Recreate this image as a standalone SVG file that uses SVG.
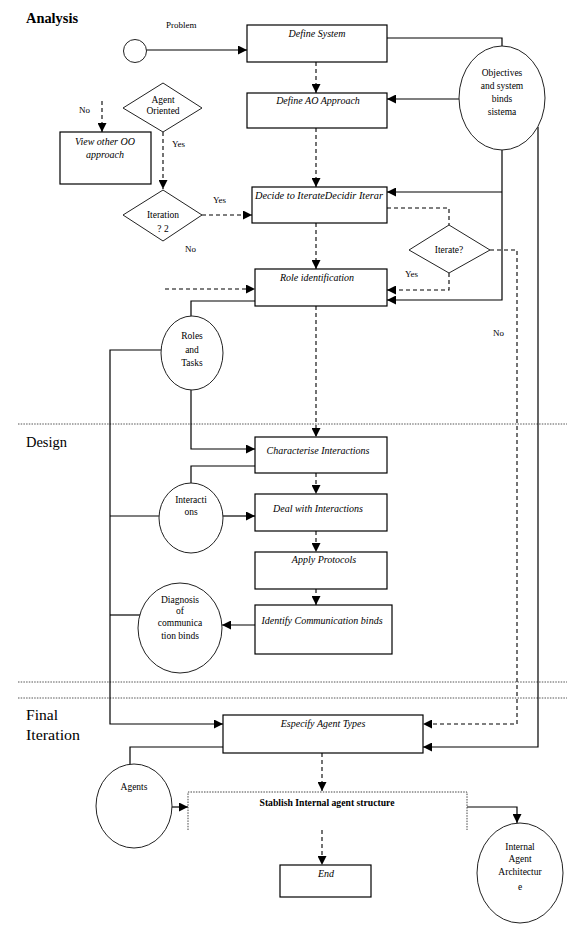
<svg xmlns="http://www.w3.org/2000/svg" width="567" height="926" viewBox="0 0 567 926">
<style>
  text{font-family:"Liberation Serif","Times New Roman","DejaVu Serif",serif}
  .box{fill:#fff;stroke:#000;stroke-width:1.2}
  .circ{fill:#fff;stroke:#222;stroke-width:1}
  .bt{font-style:italic;font-size:10px;fill:#000;text-anchor:middle}
  .ct{font-size:9.5px;fill:#000;text-anchor:middle}
  .lb{font-size:9px;fill:#000}
  .sec{font-size:15px;fill:#000}
  .solid{fill:none;stroke:#000;stroke-width:1.2}
  .dash{fill:none;stroke:#000;stroke-width:1.1;stroke-dasharray:4 3}
  .sep{fill:none;stroke:#555;stroke-width:1;stroke-dasharray:1.5 1.2}
  .dot{fill:none;stroke:#444;stroke-width:1;stroke-dasharray:1.5 1.2}
</style>
<defs>
  <marker id="ah" markerWidth="9" markerHeight="9" refX="9" refY="4.5" orient="auto" markerUnits="userSpaceOnUse">
    <path d="M0,0 L9,4.5 L0,9 z" fill="#000"/>
  </marker>
</defs>
<rect width="567" height="926" fill="#fff"/>

<g id="sections">
  <text class="sec" x="26" y="23" font-weight="bold" textLength="52" lengthAdjust="spacingAndGlyphs">Analysis</text>
  <text class="sec" x="26" y="447" textLength="41" lengthAdjust="spacingAndGlyphs">Design</text>
  <text class="sec" x="26" y="720" textLength="32" lengthAdjust="spacingAndGlyphs">Final</text>
  <text class="sec" x="26" y="740" textLength="54" lengthAdjust="spacingAndGlyphs">Iteration</text>
  <line class="sep" x1="18" y1="424" x2="567" y2="424"/>
  <line class="sep" x1="18" y1="682" x2="567" y2="682"/>
  <line class="sep" x1="18" y1="698" x2="567" y2="698"/>
</g>

<g id="connectors">
  <line class="solid" x1="146" y1="50" x2="247" y2="50" marker-end="url(#ah)"/>
  <polyline class="solid" points="387,38 502,38 502,46"/>
  <line class="solid" x1="459" y1="99" x2="387" y2="99" marker-end="url(#ah)"/>
  <polyline class="solid" points="502,150 502,300 387,300" marker-end="url(#ah)"/>
  <line class="solid" x1="502" y1="192" x2="387" y2="192" marker-end="url(#ah)"/>
  <polyline class="solid" points="538,127 538,747 423,747" marker-end="url(#ah)"/>
  <line class="dash" x1="316" y1="62" x2="316" y2="93" marker-end="url(#ah)"/>
  <line class="dash" x1="316" y1="128" x2="316" y2="187" marker-end="url(#ah)"/>
  <line class="dash" x1="316" y1="223" x2="316" y2="269" marker-end="url(#ah)"/>
  <line class="dash" x1="316" y1="306" x2="316" y2="437" marker-end="url(#ah)"/>
  <line class="dash" x1="316" y1="473" x2="316" y2="494" marker-end="url(#ah)"/>
  <line class="dash" x1="316" y1="531" x2="316" y2="552" marker-end="url(#ah)"/>
  <line class="dash" x1="316" y1="589" x2="316" y2="605" marker-end="url(#ah)"/>
  <line class="dash" x1="322" y1="753" x2="322" y2="791" marker-end="url(#ah)"/>
  <line class="dash" x1="322" y1="830" x2="322" y2="865" marker-end="url(#ah)"/>
  <line class="dash" x1="102" y1="101" x2="102" y2="132" marker-end="url(#ah)"/>
  <line class="dash" x1="163" y1="132" x2="163" y2="189" marker-end="url(#ah)"/>
  <line class="dash" x1="202" y1="215" x2="252" y2="215" marker-end="url(#ah)"/>
  <polyline class="dash" points="387,208 449,208 449,225"/>
  <polyline class="dash" points="449,273 449,290 387,290" marker-end="url(#ah)"/>
  <polyline class="dash" points="490,250 517,250 517,724 423,724" marker-end="url(#ah)"/>
  <line class="dash" x1="165" y1="289" x2="255" y2="289" marker-end="url(#ah)"/>
  <polyline class="solid" points="255,301 191,301 191,316"/>
  <polyline class="solid" points="161,350 110,350 110,724 223,724" marker-end="url(#ah)"/>
  <polyline class="solid" points="191,390 191,449 255,449" marker-end="url(#ah)"/>
  <polyline class="solid" points="255,466 191,466 191,483"/>
  <line class="solid" x1="110" y1="516" x2="159" y2="516"/>
  <line class="solid" x1="223" y1="516" x2="255" y2="516" marker-end="url(#ah)"/>
  <line class="solid" x1="110" y1="615" x2="140" y2="615"/>
  <line class="solid" x1="255" y1="625" x2="222" y2="625" marker-end="url(#ah)"/>
  <polyline class="solid" points="223,747 130,747 130,764"/>
  <line class="solid" x1="172" y1="807" x2="188" y2="807" marker-end="url(#ah)"/>
  <polyline class="solid" points="467,807 517,807 517,823" marker-end="url(#ah)"/>
</g>

<g id="start"><circle class="circ" cx="135" cy="51" r="11.5"/></g>
<g id="problem-label"><text class="lb" x="166" y="28">Problem</text></g>

<g id="define-system">
  <rect class="box" x="247" y="25" width="140" height="37"/>
  <text class="bt" x="317" y="37">Define System</text>
</g>
<g id="define-ao">
  <rect class="box" x="247" y="93" width="140" height="35"/>
  <text class="bt" x="318" y="104">Define AO Approach</text>
</g>
<g id="objectives">
  <ellipse class="circ" cx="502" cy="98" rx="43" ry="52"/>
  <text class="ct" x="502" y="76">Objectives</text>
  <text class="ct" x="502" y="89">and system</text>
  <text class="ct" x="502" y="102">binds</text>
  <text class="ct" x="502" y="115">sistema</text>
</g>
<g id="agent-oriented">
  <polygon class="circ" points="163,83 202,108 163,132 123,108"/>
  <text class="ct" x="163" y="103" font-size="7">Agent</text>
  <text class="ct" x="163" y="114" font-size="7">Oriented</text>
</g>
<g id="labels">
  <text class="lb" x="79" y="113">No</text>
  <text class="lb" x="172" y="147">Yes</text>
  <text class="lb" x="213" y="203">Yes</text>
  <text class="lb" x="185" y="252">No</text>
  <text class="lb" x="405" y="277">Yes</text>
  <text class="lb" x="493" y="336">No</text>
</g>
<g id="view-other">
  <rect class="box" x="60" y="132" width="91" height="52"/>
  <text class="bt" x="105" y="145">View other OO</text>
  <text class="bt" x="105" y="158">approach</text>
</g>
<g id="iteration">
  <polygon class="circ" points="163,190 202,215 163,241 123,215"/>
  <text class="ct" x="163" y="218" font-size="6.5" fill="#999">Iteration</text>
  <text class="ct" x="163" y="232" font-size="7.5">? 2</text>
</g>
<g id="decide">
  <rect class="box" x="252" y="187" width="135" height="36"/>
  <text class="bt" x="319" y="199" font-size="9.5" textLength="128" lengthAdjust="spacingAndGlyphs">Decide to IterateDecidir Iterar</text>
</g>
<g id="iterate">
  <polygon class="circ" points="449,225 490,250 449,273 409,250"/>
  <text class="ct" x="449" y="253" font-size="7.5">Iterate?</text>
</g>
<g id="role-identification">
  <rect class="box" x="255" y="269" width="132" height="37"/>
  <text class="bt" x="317" y="281">Role identification</text>
</g>
<g id="roles-tasks">
  <ellipse class="circ" cx="192" cy="353" rx="31" ry="37"/>
  <text class="ct" x="192" y="339">Roles</text>
  <text class="ct" x="192" y="353">and</text>
  <text class="ct" x="192" y="366">Tasks</text>
</g>
<g id="characterise">
  <rect class="box" x="255" y="437" width="132" height="36"/>
  <text class="bt" x="318" y="454">Characterise Interactions</text>
</g>
<g id="interactions">
  <ellipse class="circ" cx="191" cy="518" rx="32" ry="35"/>
  <text class="ct" x="191" y="503">Interacti</text>
  <text class="ct" x="191" y="515">ons</text>
</g>
<g id="deal">
  <rect class="box" x="255" y="494" width="132" height="37"/>
  <text class="bt" x="318" y="512">Deal with Interactions</text>
</g>
<g id="apply">
  <rect class="box" x="255" y="552" width="132" height="37"/>
  <text class="bt" x="324" y="563">Apply Protocols</text>
</g>
<g id="identify">
  <rect class="box" x="255" y="605" width="137" height="49"/>
  <text class="bt" x="322" y="624">Identify Communication binds</text>
</g>
<g id="diagnosis">
  <ellipse class="circ" cx="180" cy="628" rx="42" ry="45"/>
  <text class="ct" x="180" y="603">Diagnosis</text>
  <text class="ct" x="180" y="614">of</text>
  <text class="ct" x="180" y="626">communica</text>
  <text class="ct" x="180" y="639">tion binds</text>
</g>
<g id="especify">
  <rect class="box" x="223" y="715" width="200" height="38"/>
  <text class="bt" x="323" y="727">Especify Agent Types</text>
</g>
<g id="agents">
  <ellipse class="circ" cx="134" cy="806" rx="38" ry="42"/>
  <text class="ct" x="134" y="790">Agents</text>
</g>
<g id="stablish">
  <polyline class="dot" points="188,830 188,792 467,792 467,830"/>
  <text x="327" y="806" font-size="9.5" font-weight="bold" text-anchor="middle" textLength="135" lengthAdjust="spacingAndGlyphs">Stablish Internal agent structure</text>
</g>
<g id="end">
  <rect class="box" x="280" y="865" width="91" height="32"/>
  <text class="bt" x="326" y="877">End</text>
</g>
<g id="internal-architecture">
  <ellipse class="circ" cx="520" cy="873" rx="43" ry="50"/>
  <text class="ct" x="520" y="850">Internal</text>
  <text class="ct" x="520" y="862">Agent</text>
  <text class="ct" x="520" y="875">Architectur</text>
  <text class="ct" x="520" y="890">e</text>
</g>
</svg>
